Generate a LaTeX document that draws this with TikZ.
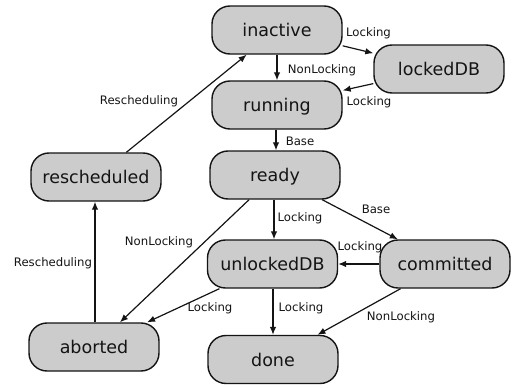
\documentclass[tikz,border=0pt]{standalone}
\usepackage{fontspec}
\setmainfont{DejaVu Sans}
\usetikzlibrary{arrows.meta}
\definecolor{boxfill}{RGB}{204,204,204}
\definecolor{ink}{RGB}{20,20,20}
\tikzset{
  state/.style={draw=ink, fill=boxfill, line width=1.4pt, rounded corners=18pt,
    minimum width=130pt, minimum height=48pt, inner sep=0pt,
    font=\fontsize{17.5}{20}\selectfont, text=ink, text height=15pt, text depth=2pt},
  edge/.style={draw=ink, line width=1.2pt, -{Latex[length=8pt,width=6.5pt]}},
  lbl/.style={font=\fontsize{11.7}{14}\selectfont, text=ink, inner sep=0pt}
}
\begin{document}
\begin{tikzpicture}[x=1pt,y=-1pt]
\useasboundingbox (0,0) rectangle (515,388);
\node[state] (inactive) at (277,30) {inactive};
\node[state] (lockedDB) at (439,69) {lockedDB};
\node[state] (running) at (277,105) {running};
\node[state] (ready) at (275,175) {ready};
\node[state] (rescheduled) at (96,177) {rescheduled};
\node[state] (unlockedDB) at (272.5,264) {unlockedDB};
\node[state] (committed) at (445,264) {committed};
\node[state] (done) at (273,359.5) {done};
\node[state] (aborted) at (94,347) {aborted};

\draw[edge] (inactive) -- (lockedDB) node[lbl] at (368.5,33) {Locking};
\draw[edge] (lockedDB) -- (running) node[lbl] at (369,102) {Locking};
\draw[edge] (inactive) -- (running) node[lbl] at (322,70) {NonLocking};
\draw[edge] (running.south -| 276,0) -- (ready.north -| 276,0) node[lbl] at (300,141) {Base};
\draw[edge] (rescheduled) -- (inactive) node[lbl] at (139,101) {Rescheduling};
\draw[edge] (ready.south -| 274,0) -- (unlockedDB.north -| 274,0) node[lbl] at (300,218) {Locking};
\draw[edge] (ready) -- (committed) node[lbl] at (376,209) {Base};
\draw[edge] (ready) -- (aborted) node[lbl] at (159,242) {NonLocking};
\draw[edge] (committed) -- (unlockedDB) node[lbl] at (360,247) {Locking};
\draw[edge] (unlockedDB) -- (aborted) node[lbl] at (210,308) {Locking};
\draw[edge] (unlockedDB.south -| 273,0) -- (done.north -| 273,0) node[lbl] at (301,308) {Locking};
\draw[edge] (committed) -- (done) node[lbl] at (401,317) {NonLocking};
\draw[edge] (aborted.north -| 95,0) -- (rescheduled.south -| 95,0) node[lbl] at (53,263) {Rescheduling};
\end{tikzpicture}
\end{document}
